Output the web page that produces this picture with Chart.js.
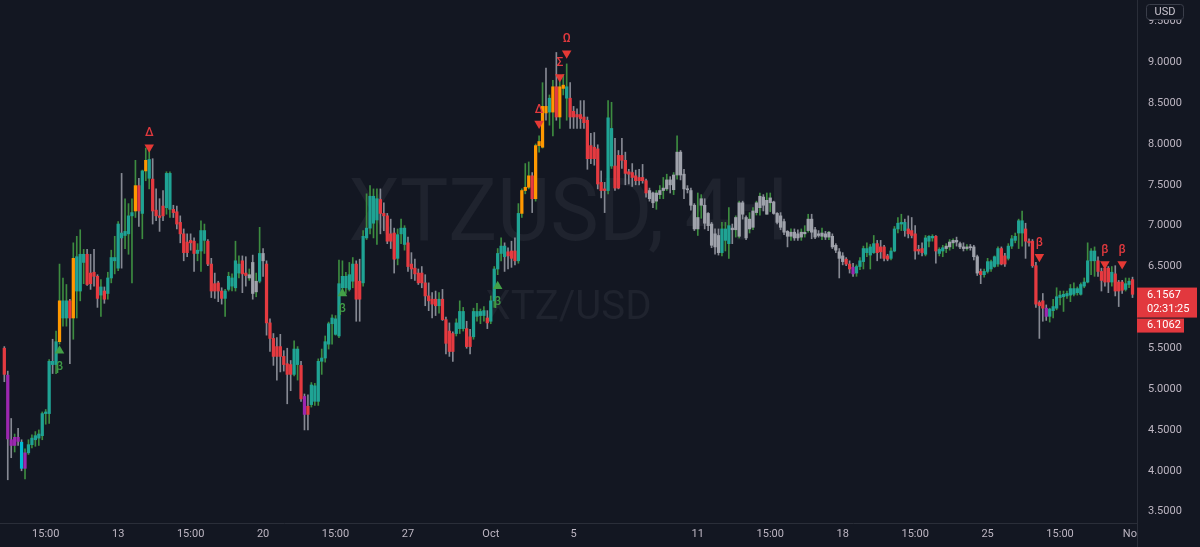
<!DOCTYPE html>
<html>
<head>
<meta charset="utf-8">
<script src="https://cdn.jsdelivr.net/npm/chart.js@4/dist/chart.umd.min.js"></script>
<style>
html, body { margin: 0; padding: 0; background: #131722; }
canvas { display: block; }
</style>
</head>
<body>
<canvas id="xtzChart" width="1200" height="547"></canvas>
<script>
// XTZUSD 4H candles (index 0 = first candle on the left)
const opens = [
  5.50,5.17,4.38,4.31,4.41,4.35,4.03,4.22,4.32,4.38, 4.40,4.43,4.70,4.70,5.34,5.30,5.58,5.87,5.87,6.08,
  5.87,6.20,6.20,6.55,6.65,6.42,6.43,6.38,6.15,6.20, 6.17,6.36,6.57,6.48,6.91,6.88,6.90,7.12,7.18,7.49,
  7.15,7.67,7.58,7.57,7.19,7.12,7.24,7.22,7.20,7.20, 7.17,7.04,6.90,6.80,6.82,6.81,6.66,6.69,6.82,6.81,
  6.53,6.29,6.30,6.20,6.11,6.22,6.26,6.24,6.42,6.57, 6.42,6.36,6.55,6.19,6.32,6.66,6.53,5.81,5.62,5.52,
  5.52,5.40,5.31,5.30,5.18,5.30,5.29,4.91,4.79,4.81, 4.85,4.85,5.34,5.38,5.55,5.80,5.67,5.65,6.24,6.24,
  6.22,6.32,6.53,6.32,6.30,6.85,6.97,7.03,7.07,7.32, 7.15,7.12,6.90,6.91,6.60,6.90,6.77,6.79,6.53,6.48,
  6.42,6.42,6.30,6.14,6.10,6.10,6.02,6.10,5.85,5.71, 5.68,5.68,5.74,5.74,5.74,5.64,5.64,5.89,5.90,5.90,
  5.87,5.83,6.08,6.47,6.66,6.75,6.68,6.69,6.69,6.57, 7.15,7.43,7.47,7.61,7.33,7.98,7.96,8.46,8.39,8.39,
  8.70,8.33,8.68,8.56,8.56,8.40,8.36,8.36,8.33,8.29, 7.98,7.96,7.94,7.53,7.45,7.43,7.73,7.73,7.86,7.86,
  7.80,7.66,7.65,7.61,7.59,7.59,7.55,7.43,7.40,7.30, 7.38,7.43,7.45,7.56,7.44,7.62,7.90,7.63,7.45,7.43,
  7.25,6.96,7.25,7.25,7.15,7.02,6.90,6.88,6.67,6.82, 6.78,6.97,6.95,6.87,7.28,7.10,6.96,6.98,7.16,7.22,
  7.35,7.14,7.28,7.29,7.15,7.12,7.05,6.93,6.87,6.92, 6.90,6.86,6.90,6.94,7.08,6.95,6.90,6.87,6.90,6.86,
  6.87,6.76,6.68,6.63,6.59,6.53,6.49,6.42,6.50,6.56, 6.67,6.64,6.67,6.78,6.74,6.74,6.63,6.60,6.69,6.96,
  7.02,7.04,6.96,6.94,6.90,6.71,6.72,6.65,6.81,6.85, 6.87,6.66,6.69,6.72,6.74,6.79,6.82,6.78,6.74,6.72,
  6.74,6.74,6.62,6.44,6.40,6.44,6.47,6.50,6.53,6.72, 6.63,6.60,6.75,6.82,6.91,6.91,6.96,6.81,6.81,6.51,
  6.06,6.08,5.99,5.89,5.96,5.99,6.12,6.13,6.14,6.15, 6.16,6.18,6.16,6.26,6.31,6.57,6.57,6.57,6.44,6.48,
  6.48,6.31,6.41,6.31,6.31,6.22,6.28,6.34
];
const highs = [
  5.52,5.22,4.64,4.45,4.52,4.38,4.27,4.38,4.44,4.48, 4.50,4.72,4.75,5.36,5.61,5.71,6.53,6.36,6.28,6.10,
  6.79,6.87,6.95,6.71,6.71,6.65,6.71,6.40,6.34,6.25, 6.43,6.70,6.87,7.05,7.64,7.33,7.27,7.33,7.80,7.58,
  7.68,7.95,7.92,7.82,7.45,7.33,7.43,7.66,7.66,7.25, 7.24,7.12,6.96,6.90,6.90,6.85,6.78,7.06,7.02,6.83,
  6.60,6.42,6.32,6.24,6.22,6.43,6.41,6.81,6.63,6.63, 6.62,6.47,6.64,6.42,6.98,6.72,6.57,5.86,5.68,5.63,
  5.67,5.47,5.50,5.35,5.59,5.52,5.34,4.94,4.93,5.08, 5.07,5.37,5.49,5.65,5.82,5.91,5.90,6.58,6.57,6.43,
  6.55,6.61,6.57,6.59,6.94,7.39,7.49,7.45,7.45,7.45, 7.28,7.15,7.08,6.97,6.96,7.08,7.00,6.86,6.67,6.59,
  6.47,6.50,6.40,6.30,6.18,6.20,6.18,6.22,5.88,5.81, 5.70,5.86,6.08,6.00,5.83,5.73,5.99,6.05,5.98,6.01,
  5.96,6.14,6.50,6.72,6.85,6.79,6.73,6.81,6.85,7.27, 7.45,7.76,7.78,7.65,8.00,8.10,8.75,8.93,8.60,8.78,
  9.12,8.78,8.85,8.98,8.75,8.46,8.43,8.53,8.53,8.33, 8.13,8.14,7.99,7.67,7.53,8.53,8.51,8.07,7.92,8.07,
  7.90,7.69,7.76,7.68,7.69,7.75,7.57,7.46,7.41,7.43, 7.49,7.59,7.63,7.60,7.65,8.10,7.92,7.69,7.49,7.46,
  7.27,7.40,7.38,7.33,7.16,7.04,6.96,6.96,7.04,7.04, 7.22,7.02,7.12,7.30,7.30,7.12,7.16,7.22,7.30,7.40,
  7.38,7.40,7.40,7.30,7.16,7.16,7.08,6.94,6.96,6.96, 6.95,6.96,7.00,7.14,7.14,6.98,6.94,6.97,6.93,6.93,
  6.90,6.78,6.72,6.67,6.61,6.57,6.54,6.52,6.61,6.75, 6.79,6.77,6.88,6.82,6.82,6.76,6.65,6.73,6.99,7.10,
  7.14,7.08,7.12,7.10,7.00,6.76,6.79,6.88,6.88,6.89, 6.88,6.73,6.76,6.78,6.83,6.84,6.86,6.80,6.79,6.77,
  6.77,6.76,6.64,6.47,6.47,6.60,6.58,6.63,6.74,6.74, 6.66,6.78,6.88,6.91,7.08,7.18,7.03,6.84,6.83,6.55,
  6.08,6.17,6.03,5.99,6.10,6.24,6.20,6.20,6.20,6.28, 6.30,6.25,6.30,6.36,6.79,6.72,6.74,6.62,6.48,6.50,
  6.50,6.50,6.51,6.33,6.33,6.36,6.36,6.37
];
const lows = [
  5.09,3.89,4.16,4.23,4.31,4.00,3.90,4.20,4.28,4.30, 4.31,4.38,4.57,4.58,5.19,5.19,5.55,5.77,5.77,5.31,
  5.61,5.87,6.08,6.29,6.27,6.22,6.26,6.00,5.89,6.05, 6.10,6.30,6.41,6.45,6.48,6.72,6.65,6.30,7.10,6.99,
  6.84,7.55,7.45,7.02,7.06,6.93,7.06,7.14,7.10,7.10, 6.96,6.79,6.57,6.62,6.70,6.44,6.57,6.44,6.66,6.51,
  6.12,6.11,6.07,6.04,5.89,6.20,6.20,6.20,6.36,6.18, 6.26,6.33,6.10,6.13,6.30,6.38,5.66,5.46,5.29,5.11,
  5.21,5.22,4.82,4.98,5.16,5.11,4.85,4.50,4.50,4.78, 4.80,4.80,5.18,5.33,5.49,5.55,5.66,5.63,6.20,6.17,
  6.20,6.24,5.83,5.83,6.26,6.83,6.90,6.85,6.77,6.90, 6.94,6.78,6.72,6.42,6.52,6.78,6.70,6.44,6.35,6.33,
  6.28,6.24,6.02,5.96,5.87,5.90,5.93,5.84,5.43,5.40, 5.34,5.65,5.68,5.71,5.50,5.43,5.61,5.83,5.80,5.83,
  5.74,5.80,6.00,6.40,6.57,6.44,6.47,6.49,6.52,6.54, 7.10,7.39,7.45,7.16,7.30,7.90,7.95,8.29,8.23,8.10,
  8.29,8.19,8.60,8.29,8.19,8.19,8.19,8.19,8.19,7.69, 7.76,7.74,7.45,7.34,7.16,7.39,7.70,7.43,7.45,7.70,
  7.50,7.51,7.48,7.50,7.50,7.52,7.35,7.30,7.22,7.20, 7.33,7.33,7.43,7.40,7.38,7.57,7.56,7.33,7.40,7.19,
  6.94,6.88,7.09,6.96,6.94,6.73,6.65,6.64,6.63,6.69, 6.60,6.78,6.86,6.85,7.08,6.83,6.91,6.95,7.13,7.13,
  7.18,7.14,7.17,7.14,7.02,6.95,6.89,6.74,6.82,6.82, 6.82,6.82,6.86,6.92,6.84,6.84,6.86,6.83,6.83,6.83,
  6.72,6.67,6.36,6.52,6.51,6.42,6.38,6.38,6.46,6.47, 6.62,6.47,6.66,6.57,6.60,6.57,6.57,6.58,6.68,6.91,
  6.94,6.87,6.85,6.85,6.59,6.65,6.63,6.63,6.74,6.81, 6.54,6.63,6.62,6.67,6.70,6.72,6.75,6.72,6.69,6.70,
  6.70,6.58,6.39,6.29,6.37,6.42,6.44,6.49,6.50,6.52, 6.50,6.58,6.72,6.79,6.72,6.75,6.60,6.75,6.49,6.00,
  5.62,5.83,5.84,5.82,5.87,5.97,6.03,5.95,6.11,6.07, 6.14,6.15,6.15,6.24,6.30,6.40,6.38,6.38,6.20,6.26,
  6.18,6.26,6.14,6.01,6.17,6.20,6.24,6.12
];
const closes = [
  5.18,4.39,4.31,4.41,4.36,4.03,4.22,4.32,4.40,4.43, 4.45,4.70,4.72,5.34,5.30,5.58,6.08,6.08,6.08,5.87,
  6.60,6.62,6.65,6.65,6.28,6.29,6.38,6.11,6.25,6.10, 6.36,6.61,6.61,7.02,6.85,6.93,7.12,7.16,7.49,7.18,
  7.67,7.80,7.81,7.18,7.12,7.10,7.12,7.64,7.64,7.16, 7.02,6.90,6.67,6.67,6.79,6.66,6.70,6.94,6.94,6.53,
  6.20,6.20,6.20,6.11,6.20,6.38,6.36,6.57,6.53,6.41, 6.39,6.40,6.17,6.32,6.66,6.57,5.81,5.62,5.40,5.40,
  5.40,5.30,5.18,5.18,5.49,5.49,4.88,4.69,4.69,5.05, 5.04,5.34,5.38,5.58,5.80,5.87,5.86,6.29,6.38,6.38,
  6.40,6.53,6.10,6.10,6.87,6.97,7.36,7.36,7.33,7.15, 7.12,6.81,6.81,6.59,6.89,6.97,6.97,6.50,6.47,6.41,
  6.30,6.30,6.14,6.08,6.04,6.02,6.10,5.85,5.56,5.46, 5.46,5.81,5.95,5.95,5.52,5.52,5.95,5.95,5.95,5.96,
  5.81,6.08,6.47,6.66,6.75,6.62,6.63,6.60,6.57,7.15, 7.43,7.47,7.61,7.33,7.98,8.03,8.46,8.38,8.56,8.70,
  8.33,8.70,8.72,8.70,8.33,8.33,8.33,8.31,8.26,7.82, 7.82,7.82,7.51,7.43,7.43,8.32,8.19,7.46,7.46,7.80,
  7.64,7.63,7.59,7.55,7.55,7.55,7.40,7.33,7.28,7.40, 7.43,7.46,7.56,7.50,7.62,7.90,7.62,7.45,7.44,7.25,
  6.96,7.10,7.33,7.03,7.00,6.76,6.74,6.67,6.96,6.96, 7.00,6.95,7.10,7.28,7.14,6.85,7.08,7.18,7.28,7.36,
  7.25,7.31,7.34,7.15,7.04,6.98,6.92,6.87,6.92,6.85, 6.85,6.92,6.92,7.08,6.92,6.86,6.88,6.91,6.86,6.92,
  6.74,6.70,6.60,6.56,6.53,6.47,6.41,6.50,6.57,6.72, 6.72,6.74,6.78,6.67,6.68,6.60,6.59,6.69,6.96,7.03,
  7.04,6.94,6.90,6.88,6.69,6.69,6.67,6.85,6.87,6.87, 6.69,6.71,6.73,6.75,6.80,6.82,6.80,6.74,6.72,6.74,
  6.73,6.62,6.42,6.40,6.44,6.56,6.56,6.62,6.72,6.53, 6.53,6.75,6.84,6.87,7.06,7.06,6.81,6.79,6.51,6.04,
  6.02,5.99,5.89,5.98,6.01,6.13,6.15,6.16,6.17,6.23, 6.23,6.23,6.28,6.31,6.57,6.69,6.69,6.44,6.33,6.31,
  6.31,6.43,6.20,6.20,6.21,6.29,6.32,6.16
];
// indicator state per candle: t = bull, r = bear, o = overheated, n = neutral, p = exhausted, c = capitulation
const state =
  'rppppcpttt' + 'ttttttottr' + 'otttrrrrtr' + 'ttttttttor' + 'totrrrrttr' +
  'rrrrrrtttr' + 'rrrrtttttr' + 'rnnntnrrrr' + 'rrrrttrprt' + 'tttttttttt' +
  'ttrrtttttr' + 'rrrrtttrrr' + 'rrrrrrtrrr' + 'rtttrrtttt' + 'rtttttrrrt' +
  'ooorooooto' + 'rootrrrrrr' + 'rrrrrttrrr' + 'rrrrrrrnnn' + 'nnnnnnnnnn' +
  'nnnnnnnntt' + 'tnnnnnnnnn' + 'nnnnnnnnnn' + 'nnnnnnnnnn' + 'nnnnrrpttt' +
  'tttrrrrttt' + 'ttrrrrrttt' + 'rttnnnnnnn' + 'nnnrtttttr' + 'rtttttrrrr' +
  'rrpttttttt' + 'tttttttrrr' + 'rtrrrttr';

// time axis labels and the candle index they sit on
const tickPos = [12, 33, 54, 75, 96, 117, 141, 165, 201, 222, 243, 264, 285, 306, 327];
const tickText = ['15:00', '13', '15:00', '20', '15:00', '27', 'Oct', '5', '11', '15:00', '18', '15:00', '25', '15:00', 'Nov'];

// signal markers
const buyIdx = [16, 98, 143];
const buyAt = [5.47, 6.17, 6.26];
const buyText = ['β', 'β', 'β'];
const sellIdx = [42, 155, 161, 163, 300, 319, 324];
const sellAt = [7.96, 8.25, 8.82, 9.11, 6.62, 6.53, 6.53];
const sellText = ['Δ', 'Δ', 'Σ', 'Ω', 'β', 'β', 'β'];

const lastPrice = 6.1567;
const bidPrice = 6.1062;
const countdown = '02:31:25';
const title = 'XTZUSD, 4H';
const subtitle = 'XTZ/USD';

const BG = '#131722';
const TEXT = '#bdb6c2';
const LINE = '#2a2e39';
const bodyColors = { t: '#1fa394', r: '#e53a40', o: '#ff9800', n: '#9fa2ab', p: '#9c27b0', c: '#00bcd4' };
const WICK_UP = '#3d8c40';
const WICK_DOWN = '#868993';
const FONT = 'Roboto, "Liberation Sans", sans-serif';

const bodyFill = opens.map((o, i) => bodyColors[state[i]]);
const wickFill = opens.map((o, i) => closes[i] >= o ? WICK_UP : WICK_DOWN);

const backdrop = {
    id: 'backdrop',
    beforeDraw(chart) {
        const { ctx, width, height } = chart;
        ctx.save();
        ctx.fillStyle = BG;
        ctx.fillRect(0, 0, width, height);
        ctx.restore();
    },
    beforeDatasetsDraw(chart) {
        const { ctx, chartArea: a } = chart;
        const cx = (a.left + a.right) / 2;
        ctx.save();
        ctx.beginPath();
        ctx.rect(a.left, a.top, a.right - a.left, a.bottom - a.top);
        ctx.clip();
        ctx.fillStyle = '#1f232e';
        ctx.textAlign = 'center';
        ctx.textBaseline = 'middle';

        ctx.font = '88px ' + FONT;
        let w = ctx.measureText(title).width;
        ctx.save();
        ctx.translate(cx, a.top + 218);
        ctx.scale(440 / w, 1);
        ctx.fillText(title, 0, 0);
        ctx.restore();

        ctx.font = '41px ' + FONT;
        w = ctx.measureText(subtitle).width;
        ctx.save();
        ctx.translate(cx, a.top + 309);
        ctx.scale(166 / w, 1);
        ctx.fillText(subtitle, 0, 0);
        ctx.restore();
        ctx.restore();
    }
};

const signalLabels = {
    id: 'signalLabels',
    afterDatasetsDraw(chart) {
        const ctx = chart.ctx;
        ctx.save();
        ctx.font = '500 12px ' + FONT;
        ctx.textAlign = 'center';
        ctx.textBaseline = 'middle';
        chart.data.datasets.forEach((ds, di) => {
            if (!ds.labels) return;
            const meta = chart.getDatasetMeta(di);
            meta.data.forEach((pt, i) => {
                ctx.fillStyle = ds.labelColor;
                ctx.fillText(ds.labels[i], pt.x, pt.y + ds.labelShift);
            });
        });
        ctx.restore();
    }
};

const priceTags = {
    id: 'priceTags',
    afterDraw(chart) {
        const { ctx, chartArea: a, width, height } = chart;
        const yScale = chart.scales.y;
        const y = yScale.getPixelForValue(lastPrice);
        ctx.save();

        // cut the time axis at the price axis, like the original
        ctx.fillStyle = BG;
        ctx.fillRect(a.right + 1, a.bottom + 1, width - a.right, height - a.bottom);
        ctx.strokeStyle = LINE;
        ctx.lineWidth = 1;
        ctx.beginPath();
        ctx.moveTo(a.right + 0.5, a.bottom);
        ctx.lineTo(a.right + 0.5, height);
        ctx.stroke();

        ctx.fillStyle = '#e2383e';
        ctx.fillRect(a.right, y - 7, 60, 30);
        ctx.fillRect(a.right, y + 24, 47, 14);
        ctx.fillStyle = '#ffffff';
        ctx.font = '11px ' + FONT;
        ctx.textAlign = 'left';
        ctx.textBaseline = 'middle';
        ctx.fillText(lastPrice.toFixed(4), a.right + 10, y + 1);
        ctx.fillText(countdown, a.right + 10, y + 15);
        ctx.fillText(bidPrice.toFixed(4), a.right + 10, y + 31);

        // currency box
        ctx.fillStyle = BG;
        ctx.strokeStyle = '#3a3e4a';
        ctx.beginPath();
        ctx.roundRect(1146.5, 4.5, 37, 15, 3);
        ctx.fill();
        ctx.stroke();
        ctx.fillStyle = '#c9c5cf';
        ctx.textAlign = 'center';
        ctx.fillText('USD', 1165, 12);
        ctx.restore();
    }
};

new Chart(document.getElementById('xtzChart'), {
    type: 'bar',
    data: {
        datasets: [
            {
                type: 'scatter',
                data: buyIdx.map((x, i) => ({ x: x, y: buyAt[i] })),
                pointStyle: 'triangle',
                pointRadius: 5.5,
                backgroundColor: '#43a047',
                borderWidth: 0,
                labels: buyText,
                labelColor: '#3f9a47',
                labelShift: 16,
                order: 0
            },
            {
                type: 'scatter',
                data: sellIdx.map((x, i) => ({ x: x, y: sellAt[i] })),
                pointStyle: 'triangle',
                rotation: 180,
                pointRadius: 5.5,
                backgroundColor: '#e53935',
                borderWidth: 0,
                labels: sellText,
                labelColor: '#e0393e',
                labelShift: -14,
                order: 0
            },
            {
                data: opens.map((o, i) => ({ x: i, y: [o, closes[i]] })),
                backgroundColor: bodyFill,
                barThickness: 2.6,
                minBarLength: 1,
                grouped: false,
                order: 1
            },
            {
                data: opens.map((o, i) => ({ x: i, y: [lows[i], highs[i]] })),
                backgroundColor: wickFill,
                barThickness: 1,
                grouped: false,
                order: 2
            }
        ]
    },
    options: {
        responsive: false,
        animation: false,
        devicePixelRatio: 1,
        events: [],
        layout: { padding: 0, autoPadding: false },
        plugins: {
            legend: { display: false },
            tooltip: { enabled: false }
        },
        scales: {
            x: {
                type: 'linear',
                min: -1.25,
                max: 328.3,
                offset: false,
                grid: { display: false, drawTicks: false },
                border: { color: LINE },
                afterBuildTicks: s => { s.ticks = tickPos.map(v => ({ value: v })); },
                afterFit: s => {
                    s.height = 24;
                    s.paddingLeft = 0;
                    s.paddingRight = 0;
                },
                ticks: {
                    autoSkip: false,
                    maxRotation: 0,
                    padding: 5,
                    color: TEXT,
                    font: { family: FONT, size: 11 },
                    callback: v => tickText[tickPos.indexOf(v)]
                }
            },
            y: {
                position: 'right',
                min: 3.361,
                max: 9.762,
                grid: { display: false, drawTicks: false },
                border: { color: LINE },
                afterFit: s => {
                    s.width = 63;
                    s.paddingTop = 0;
                    s.paddingBottom = 0;
                },
                ticks: {
                    stepSize: 0.5,
                    includeBounds: false,
                    padding: 11,
                    color: TEXT,
                    font: { family: FONT, size: 11 },
                    callback: v => v.toFixed(4)
                }
            }
        }
    },
    plugins: [backdrop, signalLabels, priceTags]
});
</script>
</body>
</html>
